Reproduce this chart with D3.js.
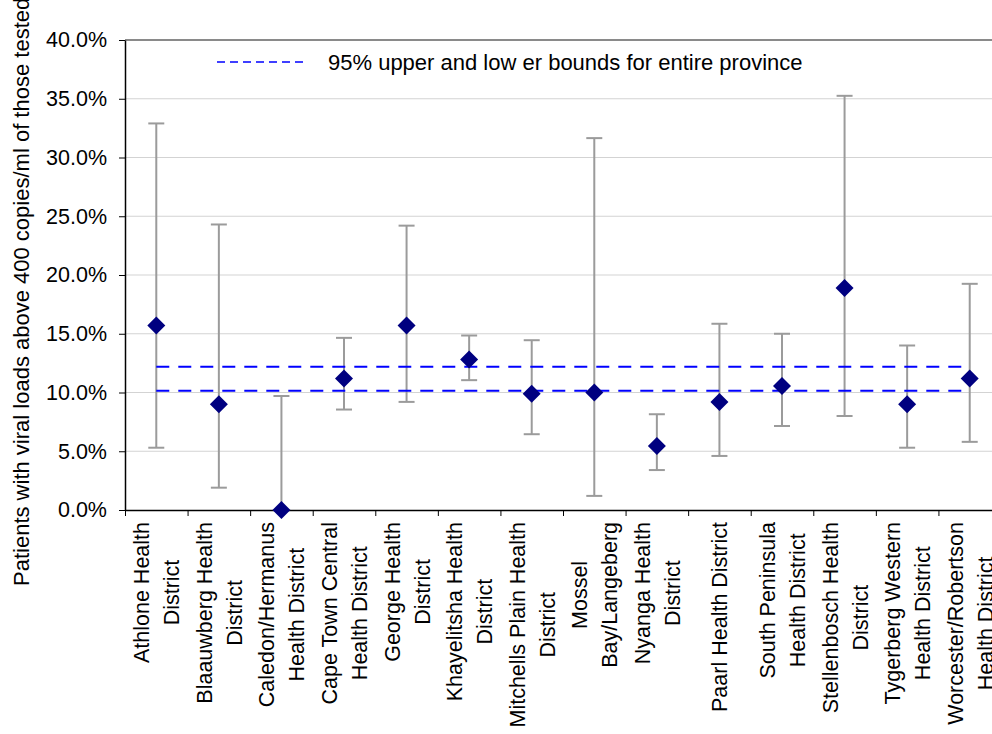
<!DOCTYPE html>
<html>
<head>
<meta charset="utf-8">
<script src="https://cdn.jsdelivr.net/npm/d3@7"></script>
<style>
  html, body { margin: 0; padding: 0; background: #fff; }
  svg { display: block; font-family: "Liberation Sans", Arial, sans-serif; }
</style>
</head>
<body>
<svg id="chart" width="992" height="734"></svg>
<script>
// Health districts (x categories) and their wrapped tick labels
const categories = [
  "Athlone Health District", "Blaauwberg Health District", "Caledon/Hermanus Health District",
  "Cape Town Central Health District", "George Health District", "Khayelitsha Health District",
  "Mitchells Plain Health District", "Mossel Bay/Langeberg", "Nyanga Health District",
  "Paarl Health District", "South Peninsula Health District", "Stellenbosch Health District",
  "Tygerberg Western Health District", "Worcester/Robertson Health District"
];
const tickLabelLines = [
  ["Athlone Health", "District"], ["Blaauwberg Health", "District"], ["Caledon/Hermanus", "Health District"],
  ["Cape Town Central", "Health District"], ["George Health", "District"], ["Khayelitsha Health", "District"],
  ["Mitchells Plain Health", "District"], ["Mossel", "Bay/Langeberg"], ["Nyanga Health", "District"],
  ["Paarl Health District"], ["South Peninsula", "Health District"], ["Stellenbosch Health", "District"],
  ["Tygerberg Western", "Health District"], ["Worcester/Robertson", "Health District"]
];

// Percentage of patients with viral load > 400 copies/ml, with 95% interval
const estimate = [15.7, 9.0, 0.0, 11.2, 15.7, 12.8, 9.9, 10.0, 5.45, 9.2, 10.55, 18.9, 9.0, 11.2];
const upperCI  = [32.9, 24.3, 9.7, 14.65, 24.2, 14.85, 14.45, 31.65, 8.15, 15.85, 15.0, 35.25, 14.0, 19.25];
const lowerCI  = [5.3, 1.9, 0.0, 8.55, 9.2, 11.05, 6.45, 1.2, 3.4, 4.6, 7.15, 8.0, 5.3, 5.8];

// Province-wide 95% bounds
const provinceBounds = [12.2, 10.15];

const yTicks = [0, 5, 10, 15, 20, 25, 30, 35, 40];
const legendText = "95% upper and low er bounds for entire province";
const yTitle = "Patients with viral loads above 400 copies/ml of those tested";

const svg = d3.select("#chart");
const plotLeft = 125, plotRight = 1001, plotTop = 40, plotBottom = 510;
const FONT = "21.5px";

const x = d3.scaleBand().domain(categories).range([plotLeft, plotRight]).padding(0);
const xIdx = d3.scaleLinear().domain([0, categories.length]).range([plotLeft, plotRight]);
const y = d3.scaleLinear().domain([0, 40]).range([plotBottom, plotTop]);
const cx = c => x(c) + x.bandwidth() / 2;

const rows = categories.map((c, i) => ({ c, v: estimate[i], hi: upperCI[i], lo: lowerCI[i] }));

// Gridlines
svg.append("g").selectAll("line").data(yTicks.filter(t => t > 0 && t < 40)).join("line")
  .attr("x1", plotLeft).attr("x2", plotRight)
  .attr("y1", d => y(d)).attr("y2", d => y(d))
  .attr("stroke", "#d3d3d3").attr("stroke-width", 1);

// Plot-area top border
svg.append("line")
  .attr("x1", plotLeft).attr("x2", plotRight).attr("y1", y(40)).attr("y2", y(40))
  .attr("stroke", "#8a8a8a").attr("stroke-width", 2);

// Error bars
const eb = svg.append("g").attr("stroke", "#9b9b9b").attr("stroke-width", 2);
eb.selectAll("line.v").data(rows).join("line").attr("class", "v")
  .attr("x1", d => cx(d.c)).attr("x2", d => cx(d.c))
  .attr("y1", d => y(d.hi)).attr("y2", d => y(d.lo));
eb.selectAll("line.hi").data(rows).join("line").attr("class", "hi")
  .attr("x1", d => cx(d.c) - 8).attr("x2", d => cx(d.c) + 8)
  .attr("y1", d => y(d.hi)).attr("y2", d => y(d.hi));
eb.selectAll("line.lo").data(rows.filter(d => d.lo > 0)).join("line").attr("class", "lo")
  .attr("x1", d => cx(d.c) - 8).attr("x2", d => cx(d.c) + 8)
  .attr("y1", d => y(d.lo)).attr("y2", d => y(d.lo));

// Province bounds (dashed)
svg.append("g").selectAll("line").data(provinceBounds).join("line")
  .attr("x1", cx(categories[0])).attr("x2", cx(categories[categories.length - 1]))
  .attr("y1", d => y(d)).attr("y2", d => y(d))
  .attr("stroke", "#0000ff").attr("stroke-width", 2).attr("stroke-dasharray", "13,9");

// Axes
const yAxis = svg.append("g").attr("transform", `translate(${plotLeft},0)`)
  .call(d3.axisLeft(y).tickValues(yTicks).tickFormat(d => d.toFixed(1) + "%")
    .tickSize(6).tickSizeOuter(0).tickPadding(12));
yAxis.select(".domain").attr("stroke", "#000").attr("stroke-width", 1.5);
yAxis.selectAll(".tick line").attr("stroke", "#000");
yAxis.selectAll("text").attr("font-size", FONT).attr("fill", "#000")
  .attr("font-family", "Liberation Sans, Arial, sans-serif");

const xAxis = svg.append("g").attr("transform", `translate(0,${plotBottom})`)
  .call(d3.axisBottom(xIdx).tickValues(d3.range(0, categories.length + 1))
    .tickFormat("").tickSize(6).tickSizeOuter(0));
xAxis.select(".domain").attr("stroke", "#000").attr("stroke-width", 1.5);
xAxis.selectAll(".tick line").attr("stroke", "#000");

// Category labels: rotated, lines centred on each other, block top-aligned below the axis
const labelTop = 522, pitch = 30;
const lab = svg.append("g").attr("font-size", FONT).attr("fill", "#000");
categories.forEach((c, i) => {
  const lines = tickLabelLines[i];
  const g = lab.append("g");
  const texts = lines.map(t => g.append("text").text(t).attr("text-anchor", "middle"));
  const maxW = d3.max(texts, t => t.node().getComputedTextLength());
  const yc = labelTop + maxW / 2;
  const n = lines.length;
  texts.forEach((t, j) => {
    const bx = cx(c) + (j - (n - 1) / 2) * pitch + 8;
    t.attr("transform", `translate(${bx},${yc}) rotate(-90)`);
  });
});

// Point estimates (diamonds)
svg.append("g").selectAll("path").data(rows).join("path")
  .attr("d", d3.symbol(d3.symbolSquare, 162)())
  .attr("transform", d => `translate(${cx(d.c)},${y(d.v)}) rotate(45)`)
  .attr("fill", "#000080");

// Legend
svg.append("line").attr("x1", 217).attr("x2", 307).attr("y1", 62).attr("y2", 62)
  .attr("stroke", "#0000ff").attr("stroke-width", 1.5).attr("stroke-dasharray", "8,5");
svg.append("text").attr("x", 328).attr("y", 62).attr("dy", "0.35em")
  .attr("font-size", "22px").attr("fill", "#000").text(legendText);

// Y-axis title
svg.append("text")
  .attr("transform", "translate(29,586) rotate(-90)")
  .attr("text-anchor", "start").attr("font-size", "22px").attr("fill", "#000")
  .text(yTitle);
</script>
</body>
</html>
